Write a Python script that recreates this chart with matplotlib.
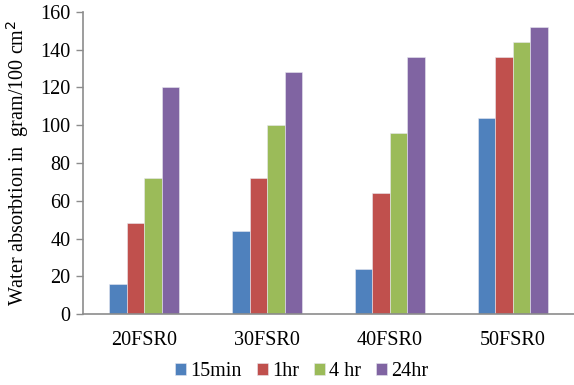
import matplotlib
matplotlib.use("Agg")
import matplotlib.pyplot as plt
import numpy as np

categories = ["20FSR0", "30FSR0", "40FSR0", "50FSR0"]
series_names = ["15min", "1hr", "4 hr", "24hr"]
v_15min = [16, 44, 24, 104]
v_1hr = [48, 72, 64, 136]
v_4hr = [72, 100, 96, 144]
v_24hr = [120, 128, 136, 152]
yticks = [0, 20, 40, 60, 80, 100, 120, 140, 160]

colors = ["#4F81BD", "#C0504D", "#9BBB59", "#8064A2"]
values = [v_15min, v_1hr, v_4hr, v_24hr]

plt.rcParams["font.family"] = ["Liberation Serif", "DejaVu Serif"]

fig = plt.figure(figsize=(5.74, 3.85), dpi=100)
ax = fig.add_axes([83 / 574, 1 - 314 / 385, 491 / 574, 302 / 385])

x = np.arange(len(categories))
bw = 0.1425
for i, (vals, col, name) in enumerate(zip(values, colors, series_names)):
    ax.bar(x + (i - 1.5) * bw, vals, width=bw, color=col, label=name,
           edgecolor="#e8e8f0", linewidth=0.4, zorder=2)

ax.set_xlim(-0.5, len(categories) - 0.5)
ax.set_ylim(0, 160)
ax.set_yticks(yticks)
ax.set_xticks(x)
ax.set_xticklabels(categories)

for s in ["top", "right"]:
    ax.spines[s].set_visible(False)
for s in ["left", "bottom"]:
    ax.spines[s].set_color("#8c8c8c")
    ax.spines[s].set_linewidth(1.2)

ax.tick_params(axis="y", direction="out", length=5, width=1.0, color="#8c8c8c",
               labelsize=14.5, pad=4)
ax.tick_params(axis="x", length=0, labelsize=14.5, pad=12)

ax.set_ylabel("Water absorbtion in  gram/100 cm$^2$", fontsize=14.5)
ax.yaxis.set_label_coords(-0.105, 0.5)

fig.legend(loc="center", bbox_to_anchor=(302 / 574, 1 - 372 / 385), ncol=4,
           frameon=False, fontsize=14.5, handlelength=0.55, handleheight=0.55,
           handletextpad=0.2, columnspacing=0.75, borderaxespad=0)

fig.savefig("out.png", dpi=100)
